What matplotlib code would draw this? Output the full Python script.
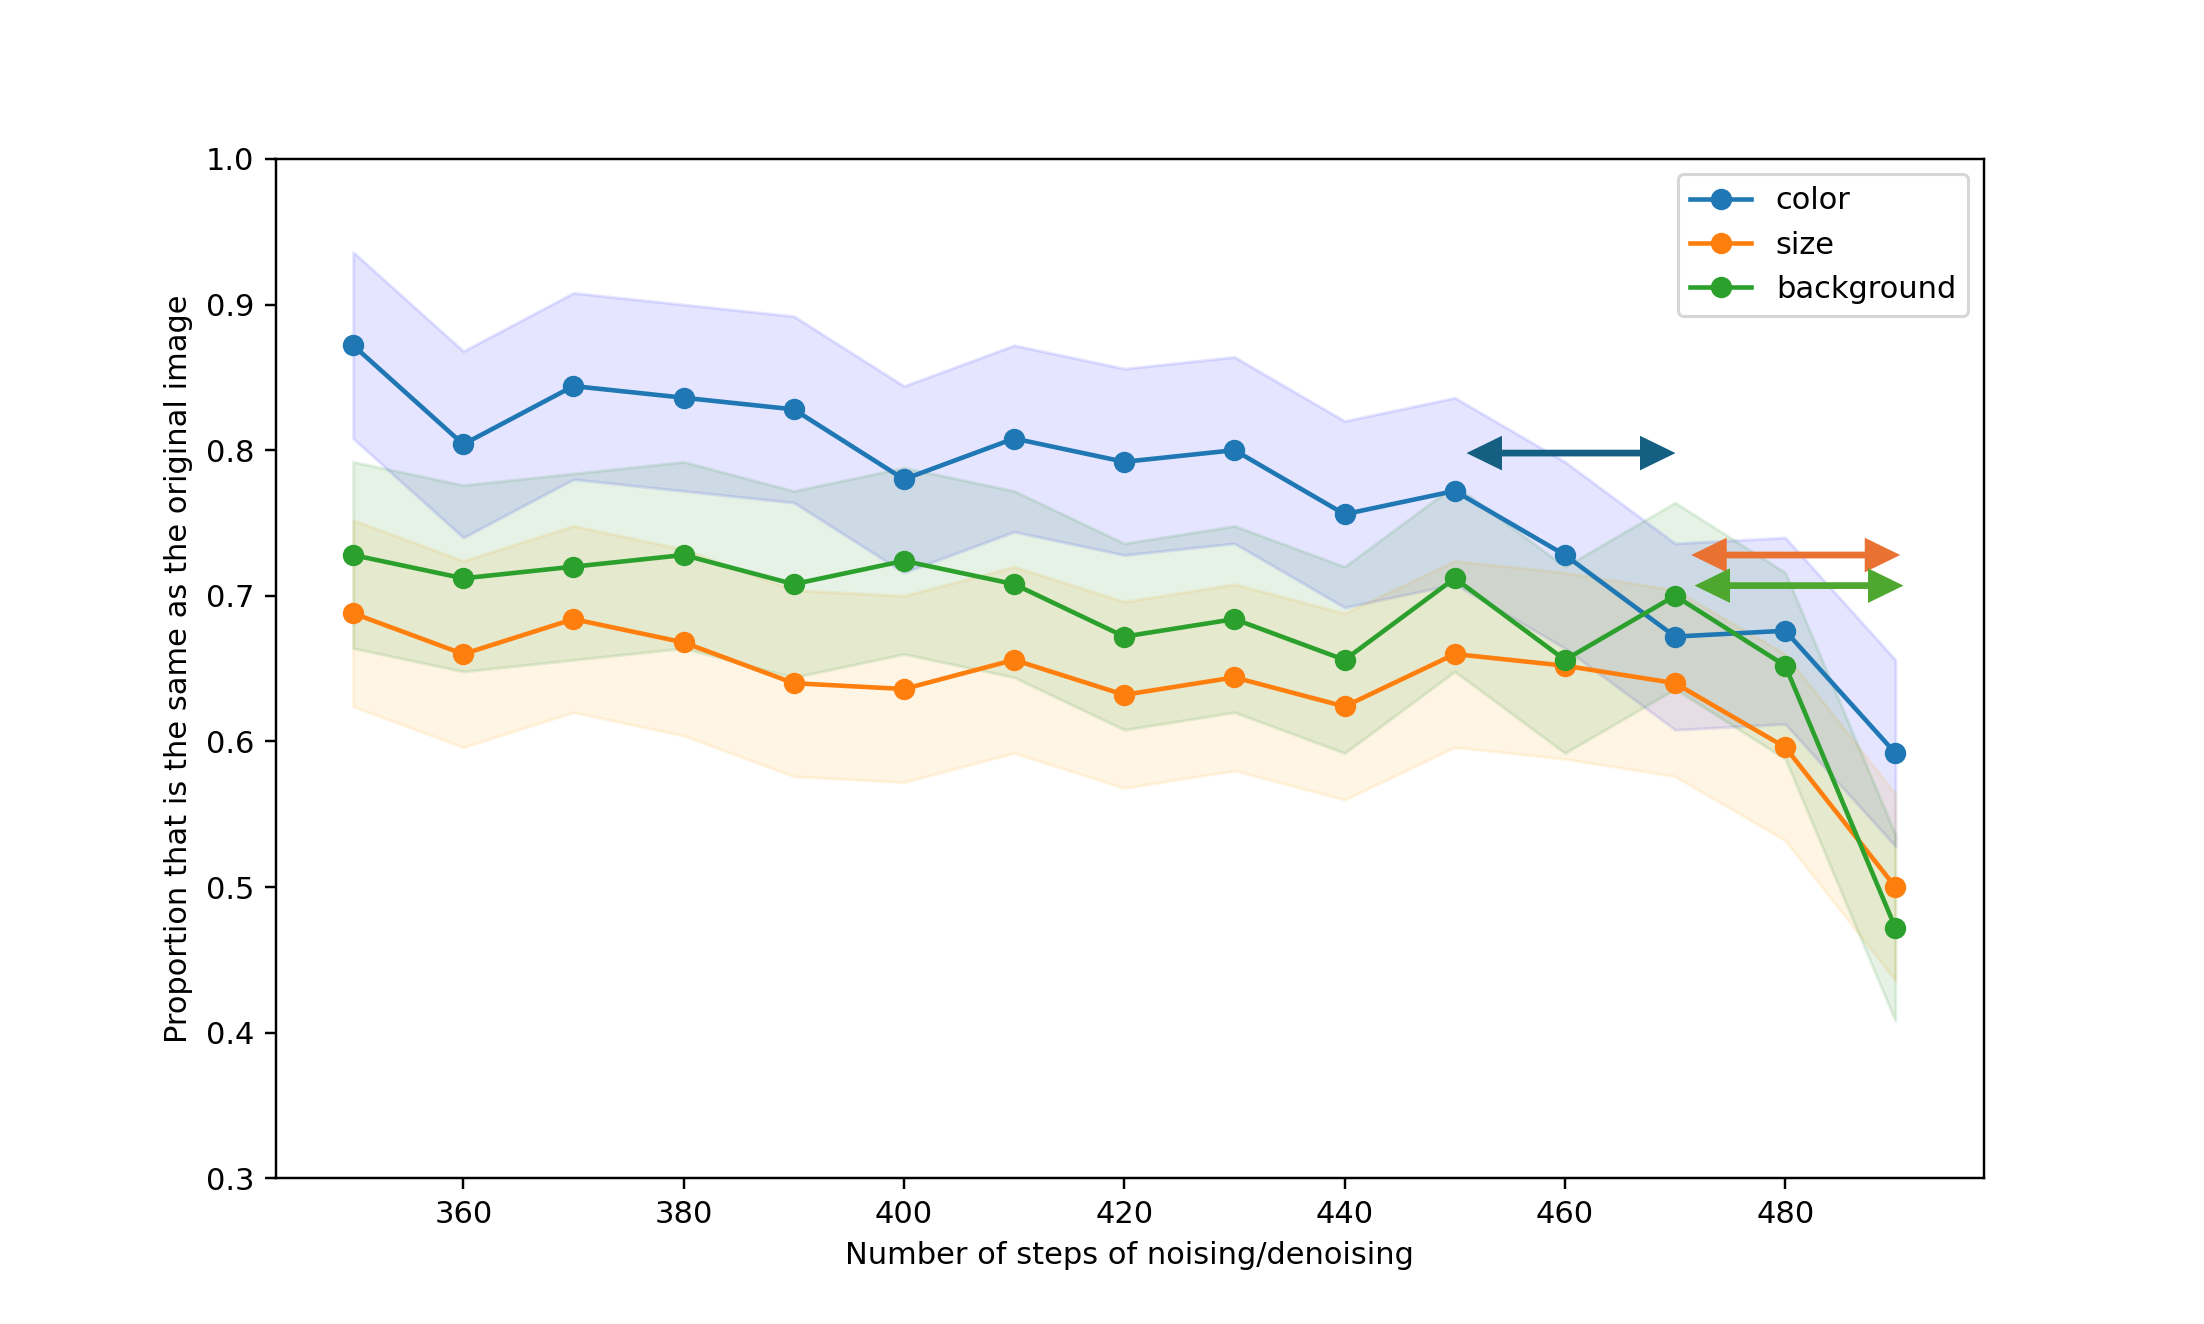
import matplotlib
matplotlib.use("Agg")
import matplotlib.pyplot as plt
import numpy as np
from matplotlib.patches import FancyArrowPatch

steps = [350, 360, 370, 380, 390, 400, 410, 420, 430, 440, 450, 460, 470, 480, 490]
color_vals = [0.872, 0.804, 0.844, 0.836, 0.828, 0.780, 0.808, 0.792, 0.800,
              0.756, 0.772, 0.728, 0.672, 0.676, 0.592]
size_vals = [0.688, 0.660, 0.684, 0.668, 0.640, 0.636, 0.656, 0.632, 0.644,
             0.624, 0.660, 0.652, 0.640, 0.596, 0.500]
background_vals = [0.728, 0.712, 0.720, 0.728, 0.708, 0.724, 0.708, 0.672, 0.684,
                   0.656, 0.712, 0.656, 0.700, 0.652, 0.472]
ci = 0.064  # half width of the shaded band

# arrows: (x start, x end, y, colour)
arrows = [
    (450.4, 470.7, 0.798, '#156082'),
    (470.8, 491.1, 0.728, '#E97132'),
    (471.1, 491.4, 0.707, '#4EA72E'),
]

fig = plt.figure(figsize=(2204 / 220.0, 1324 / 220.0), dpi=220)
ax = fig.add_subplot(111)

x = np.array(steps)
series = [
    ('color', color_vals, 'b'),
    ('size', size_vals, 'orange'),
    ('background', background_vals, 'g'),
]
for label, vals, band in series:
    y = np.array(vals)
    ax.plot(x, y, marker='o', label=label)
    ax.fill_between(x, y - ci, y + ci, color=band, alpha=0.1)

# sharp (miter) heads, tips pulled in so the outline ends at the given x
for x0, x1, yy, c in arrows:
    arr = FancyArrowPatch((x0, yy), (x1, yy),
                          arrowstyle='<|-|>,head_length=0.8,head_width=0.39',
                          mutation_scale=10, lw=2.2, color=c,
                          joinstyle='miter', capstyle='butt',
                          shrinkA=2.4, shrinkB=2.4, zorder=5)
    ax.add_patch(arr)

ax.set_ylim(0.3, 1.0)
ax.set_xlabel("Number of steps of noising/denoising")
ax.set_ylabel("Proportion that is the same as the original image")
ax.legend(loc='upper right')

plt.savefig("out.png")
